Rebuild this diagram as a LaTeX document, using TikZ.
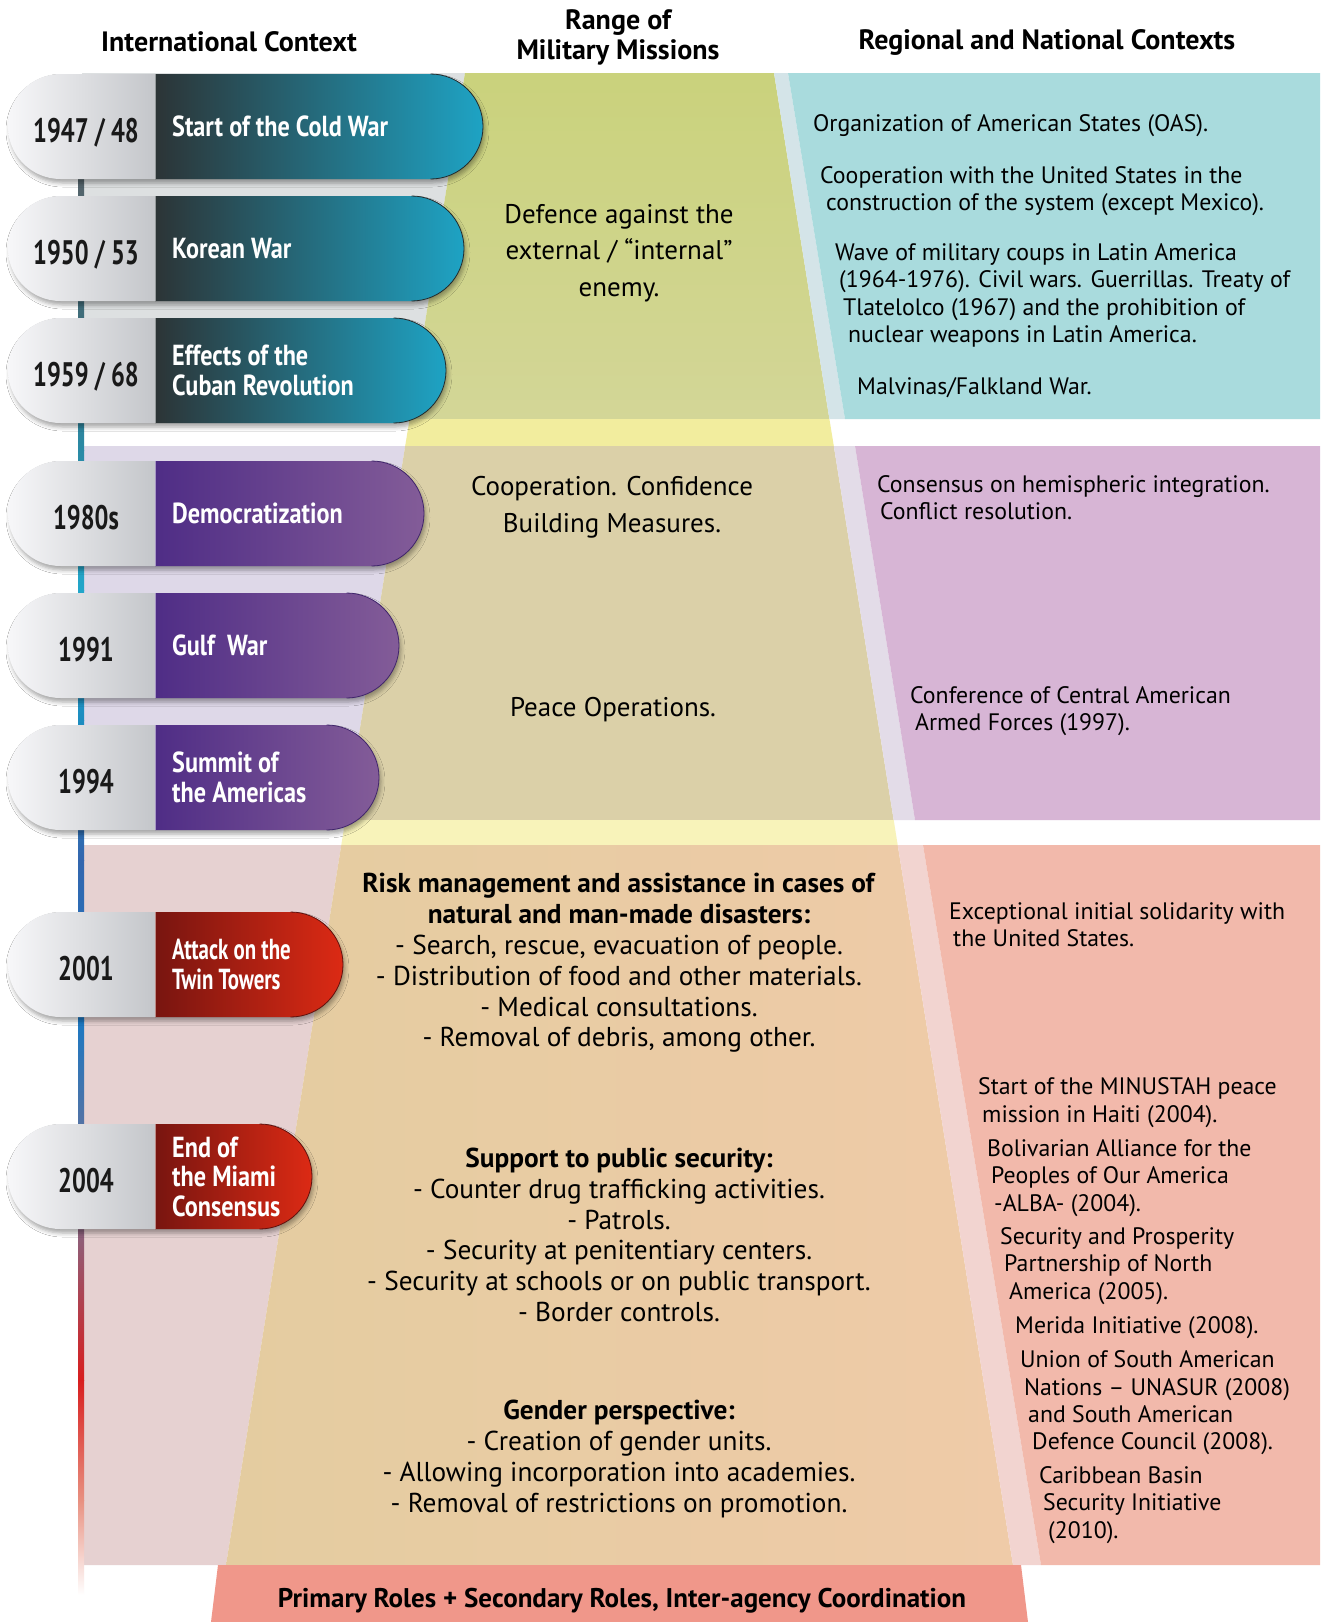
\documentclass[tikz,border=0pt]{standalone}
\usepackage{fontspec}
\setmainfont{PT Sans}
\newfontfamily\condfont[FakeStretch=0.72]{PT Sans}
\newfontfamily\capfont[FakeStretch=0.835]{PT Sans}
\usetikzlibrary{shadows.blur}

\definecolor{bandAleft}{HTML}{DDE0E1}
\definecolor{bandAmidT}{HTML}{CAD27C}
\definecolor{bandAmidB}{HTML}{D3D697}
\definecolor{bandAstrip}{HTML}{D4E4E8}
\definecolor{bandAright}{HTML}{A9DBDD}
\definecolor{gapA}{HTML}{F2ED9E}
\definecolor{bandBleft}{HTML}{DED8E8}
\definecolor{bandBmid}{HTML}{DBD0A8}
\definecolor{bandBstrip}{HTML}{E3DCE8}
\definecolor{bandBright}{HTML}{D7B5D5}
\definecolor{gapB}{HTML}{F8F3BA}
\definecolor{bandCleft}{HTML}{E6D1D1}
\definecolor{bandCmidL}{HTML}{E4CCA0}
\definecolor{bandCmidR}{HTML}{EFCBA8}
\definecolor{bandCstrip}{HTML}{F2D4D0}
\definecolor{bandCright}{HTML}{F2B9AB}
\definecolor{rolebox}{HTML}{F0978A}
\definecolor{pillL}{HTML}{F7F7F9}
\definecolor{pillR}{HTML}{C4C6CA}
\definecolor{coldL}{HTML}{2C3436}
\definecolor{coldR}{HTML}{1EA3C4}
\definecolor{demoL}{HTML}{4F2D86}
\definecolor{demoR}{HTML}{835C98}
\definecolor{terrL}{HTML}{781510}
\definecolor{terrR}{HTML}{DC2A14}
\definecolor{tlA}{HTML}{56636A}
\definecolor{tlB}{HTML}{3D6E7C}
\definecolor{tlC}{HTML}{2A8AA5}
\definecolor{tlD}{HTML}{22A6CA}
\definecolor{tlE}{HTML}{1D8DC0}
\definecolor{tlF}{HTML}{3366AE}
\definecolor{tlG}{HTML}{1C78C2}
\definecolor{tlH}{HTML}{7B6F90}
\definecolor{tlI}{HTML}{D81E1E}
\definecolor{tlJ}{HTML}{E89080}

\tikzset{
  headtext/.style={font=\fontsize{28}{30}\selectfont\bfseries, align=center},
  midtext/.style={font=\fontsize{27}{36.5}\selectfont, align=center},
  risktext/.style={font=\fontsize{27.3}{30.8}\selectfont, align=center},
  regtext/.style={font=\fontsize{23.8}{27.3}\selectfont, align=left, anchor=west, inner sep=0pt},
  yearlabel/.style={font=\condfont\bfseries\fontsize{34}{34}\selectfont, text=black!90, anchor=base},
  caplabel/.style={font=\capfont\bfseries\fontsize{29}{29.5}\selectfont, text=white, align=left, anchor=west, inner sep=0pt},
  capshadow/.style={blur shadow={shadow xshift=2pt, shadow yshift=-4pt, shadow blur radius=4pt, shadow opacity=35}},
}

% name, top, right end, left colour, right colour, year, label
\newcommand\capsule[7]{%
  \path[capshadow] (60.5,#2) -- ({#3-52.5},#2) arc (-90:90:52.5) -- (60.5,#2+105) arc (90:270:52.5) -- cycle;
  \shade[left color=pillL, right color=pillR] (155,#2) -- (60.5,#2) arc (-90:-270:52.5) -- (155,#2+105) -- cycle;
  \shade[left color=#4, right color=#5] (155,#2) -- ({#3-52.5},#2) arc (-90:90:52.5) -- (155,#2+105) -- cycle;
  \draw[#4!80!black, line width=0.8pt] ({#3-52.5},#2) arc (-90:90:52.5);
  \draw[#4!50!white, line width=1.5pt] (155.5,#2) -- (155.5,#2+105);
  \node[yearlabel] (#1-year) at (86,#2+68) {#6};
  \node[caplabel] (#1-label) at (172,#2+52.5) {#7};
}

\begin{document}
\begin{tikzpicture}[x=1pt, y=-1pt]
  \useasboundingbox (0,0) rectangle (1320,1622);
  \fill[white] (0,0) rectangle (1320,1622);

  % headers
  \node[headtext] (intl) at (229,42) {International Context};
  \node[headtext] (range) at (618,37) {Range of\\Military Missions};
  \node[headtext] (regional) at (1047,42) {Regional and National Contexts};

  % band A
  \fill[bandAleft] (82,73) -- (465,73) -- (409.6,419) -- (82,419) -- cycle;
  \shade[top color=bandAmidT, bottom color=bandAmidB] (465,73) -- (774,73) -- (829.4,419) -- (409.6,419) -- cycle;
  \fill[bandAstrip] (774,73) -- (788,73) -- (845,419) -- (829.4,419) -- cycle;
  \fill[bandAright] (788,73) -- (1320,73) -- (1320,419) -- (845,419) -- cycle;
  \fill[gapA] (409.6,419) -- (829.4,419) -- (833.8,446) -- (405.2,446) -- cycle;

  % band B
  \fill[bandBleft] (82,446) -- (405.2,446) -- (345.3,820) -- (82,820) -- cycle;
  \fill[bandBmid] (405.2,446) -- (833.8,446) -- (893.7,820) -- (345.3,820) -- cycle;
  \fill[bandBstrip] (833.8,446) -- (855,446) -- (915,820) -- (893.7,820) -- cycle;
  \fill[bandBright] (855,446) -- (1320,446) -- (1320,820) -- (915,820) -- cycle;
  \fill[gapB] (345.3,820) -- (893.7,820) -- (897.7,845) -- (341.3,845) -- cycle;

  % band C
  \fill[bandCleft] (82,845) -- (341.3,845) -- (226,1565) -- (82,1565) -- cycle;
  \shade[left color=bandCmidL, right color=bandCmidR] (341.3,845) -- (897.7,845) -- (1013,1565) -- (226,1565) -- cycle;
  \fill[bandCstrip] (897.7,845) -- (923,845) -- (1041,1565) -- (1013,1565) -- cycle;
  \fill[bandCright] (923,845) -- (1320,845) -- (1320,1565) -- (1041,1565) -- cycle;

  \fill[rolebox] (218,1565) -- (1021,1565) -- (1028,1622) -- (211,1622) -- cycle;
  \node[font=\fontsize{27}{28}\selectfont\bfseries] (roles) at (622,1601) {Primary Roles + Secondary Roles, Inter-agency Coordination};

  % timeline
  \foreach \ya/\yb/\ca/\cb in {170/330/tlA/tlB, 330/450/tlB/tlC, 450/590/tlC/tlD, 590/720/tlD/tlE, 720/860/tlE/tlF, 860/1020/tlF/tlG, 1020/1200/tlG/tlH, 1200/1380/tlH/tlI, 1380/1500/tlI/tlJ, 1500/1595/tlJ/white}
    \shade[top color=\ca, bottom color=\cb] (78,\ya) rectangle (84,\yb);

  % capsules
  \capsule{cold}{74}{483}{coldL}{coldR}{1947 / 48}{Start of the Cold War}
  \capsule{korea}{196}{464}{coldL}{coldR}{1950 / 53}{Korean War}
  \capsule{cuba}{318}{446}{coldL}{coldR}{1959 / 68}{Effects of the\\Cuban Revolution}
  \capsule{demo}{461}{424}{demoL}{demoR}{1980s}{Democratization}
  \capsule{gulf}{593}{399}{demoL}{demoR}{1991}{Gulf\ \ War}
  \capsule{summit}{725}{379}{demoL}{demoR}{1994}{Summit of\\the Americas}
  \capsule{towers}{912}{343}{terrL}{terrR}{2001}{\condfont\bfseries Attack on the\\\condfont\bfseries Twin Towers}
  \capsule{miami}{1124}{312}{terrL}{terrR}{2004}{End of\\the Miami\\Consensus}

  % range of missions
  \node[midtext] (defence) at (619,253) {Defence against the\\external / “internal”\\enemy.};
  \node[midtext] (confidence) at (612,507) {Cooperation. Confidence\\Building Measures.};
  \node[midtext] (peace) at (613,710) {Peace Operations.};
  \node[risktext] (risk) at (619,963) {\textbf{Risk management and assistance in cases of}\\\textbf{natural and man-made disasters:}\\- Search, rescue, evacuation of people.\\- Distribution of food and other materials.\\- Medical consultations.\\- Removal of debris, among other.};
  \node[risktext] (security) at (619,1235) {\textbf{Support to public security:}\\- Counter drug trafficking activities.\\- Patrols.\\- Security at penitentiary centers.\\- Security at schools or on public transport.\\- Border controls.};
  \node[risktext] (gender) at (619,1459) {\textbf{Gender perspective:}\\- Creation of gender units.\\- Allowing incorporation into academies.\\- Removal of restrictions on promotion.};

  % regional and national contexts
  \node[regtext] (oas) at (813,126) {Organization of American States (OAS).};
  \node[regtext] (coop) at (820,191) {Cooperation with the United States in the\\\hspace*{6pt}construction of the system (except Mexico).};
  \node[regtext] (coups) at (835,295.5) {Wave of military coups in Latin America\\\hspace*{4pt}(1964-1976). Civil wars. Guerrillas. Treaty of\\\hspace*{8pt}Tlatelolco (1967) and the prohibition of\\\hspace*{13pt}nuclear weapons in Latin America.};
  \node[regtext] (malvinas) at (857,388) {Malvinas/Falkland War.};
  \node[regtext] (consensus) at (877,498) {Consensus on hemispheric integration.\\\hspace*{3pt}Conflict resolution.};
  \node[regtext] (conference) at (910,711) {Conference of Central American\\\hspace*{5pt}Armed Forces (1997).};
  \node[regtext] (solidarity) at (949,924.5) {Exceptional initial solidarity with\\\hspace*{4pt}the United States.};
  \node[regtext] (minustah) at (978,1102.5) {Start of the MINUSTAH peace\\\hspace*{4pt}mission in Haiti (2004).};
  \node[regtext] (alba) at (987,1178) {Bolivarian Alliance for the\\\hspace*{4pt}Peoples of Our America\\\hspace*{7pt}-ALBA- (2004).};
  \node[regtext] (prosperity) at (1000,1266) {Security and Prosperity\\\hspace*{4pt}Partnership of North\\\hspace*{9pt}America (2005).};
  \node[regtext] (merida) at (1015,1328) {Merida Initiative (2008).};
  \node[regtext] (unasur) at (1020,1403) {Union of South American\\\hspace*{4pt}Nations – UNASUR (2008)\\\hspace*{8pt}and South American\\\hspace*{12pt}Defence Council (2008).};
  \node[regtext] (caribbean) at (1039,1505) {Caribbean Basin\\\hspace*{4pt}Security Initiative\\\hspace*{9pt}(2010).};
\end{tikzpicture}
\end{document}
